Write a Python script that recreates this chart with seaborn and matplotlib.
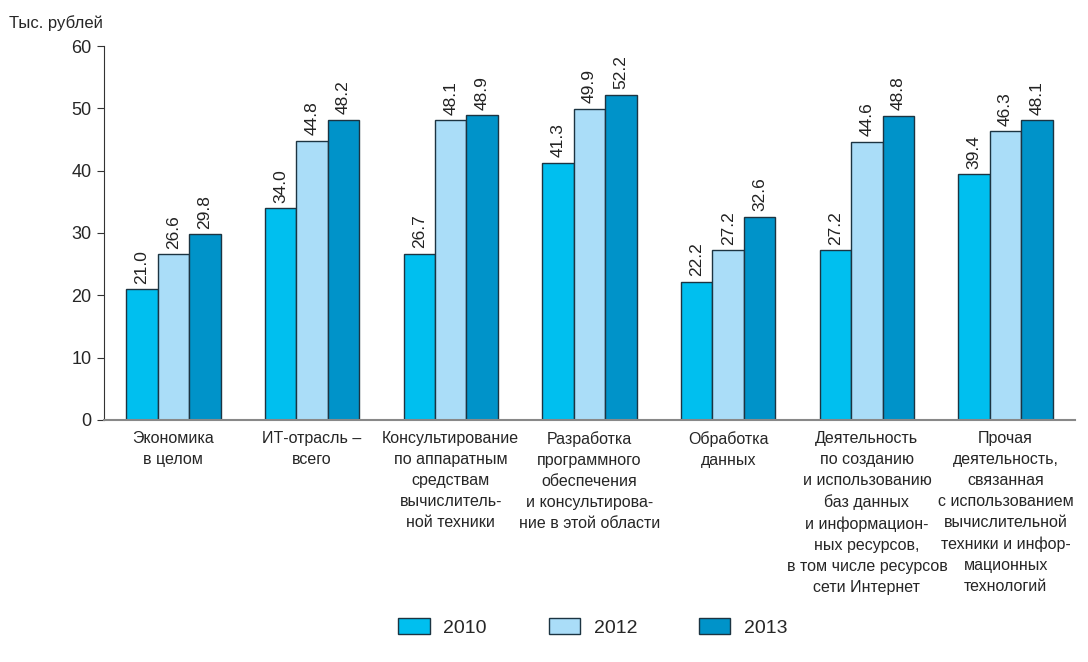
import numpy as np
import pandas as pd
import matplotlib
matplotlib.use("Agg")
import matplotlib.pyplot as plt
import seaborn as sns

categories = [
    "Экономика\nв целом",
    "ИТ-отрасль –\nвсего",
    "Консультирование\nпо аппаратным\nсредствам\nвычислитель-\nной техники",
    "Разработка\nпрограммного\nобеспечения\nи консультирова-\nние в этой области",
    "Обработка\nданных",
    "Деятельность\nпо созданию\nи использованию\nбаз данных\nи информацион-\nных ресурсов,\nв том числе ресурсов\nсети Интернет",
    "Прочая\nдеятельность,\nсвязанная\nс использованием\nвычислительной\nтехники и инфор-\nмационных\nтехнологий",
]
years = ["2010", "2012", "2013"]
v2010 = [21.0, 34.0, 26.7, 41.3, 22.2, 27.2, 39.4]
v2012 = [26.6, 44.8, 48.1, 49.9, 27.2, 44.6, 46.3]
v2013 = [29.8, 48.2, 48.9, 52.2, 32.6, 48.8, 48.1]
colors = ["#00BFEF", "#AADDF8", "#0093C9"]

rows = []
for yr, vals in zip(years, [v2010, v2012, v2013]):
    for c, v in zip(categories, vals):
        rows.append({"cat": c, "year": yr, "val": v})
df = pd.DataFrame(rows)

sns.set_style("white")
plt.rcParams["font.family"] = ["Liberation Sans Narrow", "Liberation Sans", "DejaVu Sans"]

fig = plt.figure(figsize=(10.88, 6.62), dpi=100)
ax = fig.add_axes([0.0956, 0.3656, 0.8924, 0.5649])

sns.barplot(data=df, x="cat", y="val", hue="year", palette=colors, saturation=1,
            width=0.68, edgecolor="#1c3442", linewidth=1.0, ax=ax, legend=True)

for cont in ax.containers:
    ax.bar_label(cont, labels=[f"{v:.1f}" for v in cont.datavalues],
                 rotation=90, padding=4, fontsize=12.5, color="#222222")

ax.set_ylim(0, 60)
ax.set_xlim(-0.5, len(categories) - 0.5)
ax.set_yticks(range(0, 61, 10))
ax.set_xlabel("")
ax.set_ylabel("")
ax.set_xticks(range(len(categories)))
ax.set_xticklabels(categories, fontsize=11.5, linespacing=1.5, va="top")
ax.set_xticks(np.arange(0.5, len(categories) - 0.5, 1), minor=True)
ax.tick_params(axis="x", which="major", length=0, pad=8)
ax.tick_params(axis="x", which="minor", length=5, color="#333333", direction="out")
ax.tick_params(axis="y", length=5, color="#333333", labelsize=13, direction="out", pad=4, left=True)
for s in ["top", "right"]:
    ax.spines[s].set_visible(False)
ax.spines["left"].set_color("#333333")
ax.spines["bottom"].set_color("#888888")
ax.spines["bottom"].set_linewidth(1.5)

fig.text(0.008, 0.965, "Тыс. рублей", fontsize=12, ha="left", va="center")

handles, labels = ax.get_legend_handles_labels()
ax.legend_.remove()
fig.legend(handles, labels, loc="center", bbox_to_anchor=(0.545, 0.052), ncol=3,
           frameon=False, fontsize=14, handlelength=1.6, handleheight=0.9,
           columnspacing=3.2, handletextpad=0.7)

fig.savefig("out.png", dpi=100)
